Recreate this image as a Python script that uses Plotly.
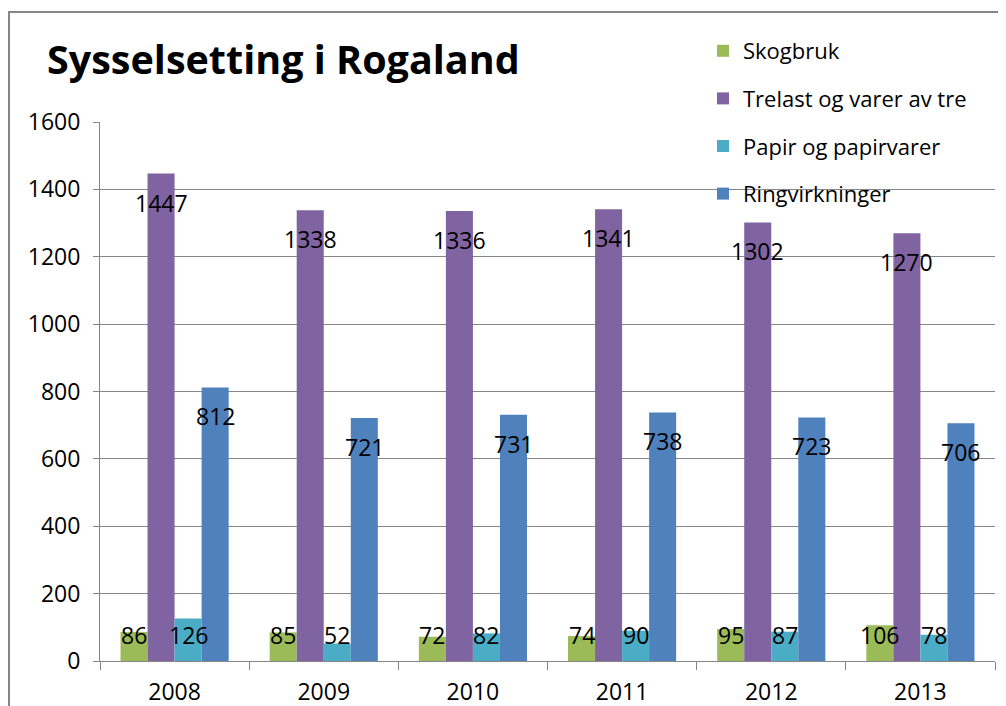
import plotly.graph_objects as go

years = ["2008", "2009", "2010", "2011", "2012", "2013"]
series_names = ["Skogbruk", "Trelast og varer av tre", "Papir og papirvarer", "Ringvirkninger"]
skogbruk = [86, 85, 72, 74, 95, 106]
trelast = [1447, 1338, 1336, 1341, 1302, 1270]
papir = [126, 52, 82, 90, 87, 78]
ringvirkninger = [812, 721, 731, 738, 723, 706]
colors = ["#9BBB59", "#8064A2", "#4BACC6", "#4F81BD"]
y_ticks = [0, 200, 400, 600, 800, 1000, 1200, 1400, 1600]

FONT = "Open Sans"
W, H = 1006, 706
OFF = 8  # page body margin offset
ML, MR, MT, MB = 100 - OFF, 11 + OFF, 122 - OFF, 45 + OFF
BARGAP = 0.275

fig = go.Figure()
all_series = [skogbruk, trelast, papir, ringvirkninger]
for i, (name, vals) in enumerate(zip(series_names, all_series)):
    fig.add_trace(go.Bar(
        x=years, y=vals, name=name, marker=dict(color=colors[i], line=dict(width=0)),
        legendgroup=name,
    ))

# data labels
n = len(all_series)
bw = (1 - BARGAP) / n
for i, vals in enumerate(all_series):
    for k, v in enumerate(vals):
        fig.add_annotation(
            x=k + (i - (n - 1) / 2) * bw, y=max(v - 86, 77), xref="x", yref="y",
            text=str(v), showarrow=False, font=dict(family=FONT, size=23, color="#000000"),
            xanchor="center", yanchor="middle",
        )

pw = W - ML - MR
ph = H - MT - MB
# outer chart frame (reference coords x=8, y=12)
fig.add_shape(type="rect", xref="paper", yref="paper",
              x0=(1 - ML) / pw, x1=(W + 20 - ML) / pw,
              y0=-(MB + 30) / ph, y1=(H - MB - 4) / ph,
              line=dict(color="#868686", width=2), fillcolor="rgba(0,0,0,0)", layer="below")

fig.update_layout(
    width=W, height=H,
    margin=dict(l=ML, r=MR, t=MT, b=MB, autoexpand=False),
    paper_bgcolor="white", plot_bgcolor="white",
    barmode="group", bargap=BARGAP, bargroupgap=0,
    font=dict(family=FONT, size=23, color="#000000"),
    title=dict(text="<b>Sysselsetting i Rogaland</b>", x=(47 - OFF) / W, xref="container", xanchor="left",
               y=1 - (60 - OFF) / H, yref="container", yanchor="middle",
               font=dict(family=FONT, size=39.5, color="#000000")),
    legend=dict(x=(703 - OFF - ML) / pw, y=(H - MB - (30 - OFF)) / ph, xanchor="left", yanchor="top",
                bgcolor="rgba(0,0,0,0)", font=dict(family=FONT, size=22, color="#000000"),
                tracegroupgap=16),
    showlegend=True,
    xaxis=dict(type="category", tickson="boundaries", ticks="outside", ticklen=8, tickcolor="#868686",
               showline=True, linecolor="#868686", linewidth=1, showgrid=False, automargin=False,
               tickfont=dict(family=FONT, size=23), ticklabelstandoff=10),
    yaxis=dict(range=[0, 1600], tickvals=y_ticks, ticks="outside", ticklen=6, tickcolor="#868686",
               showline=True, linecolor="#868686", linewidth=1, showgrid=True, gridcolor="#868686",
               gridwidth=1, zeroline=False, automargin=False,
               tickfont=dict(family=FONT, size=23), ticklabelstandoff=8),
)

fig.write_html("out.html")
